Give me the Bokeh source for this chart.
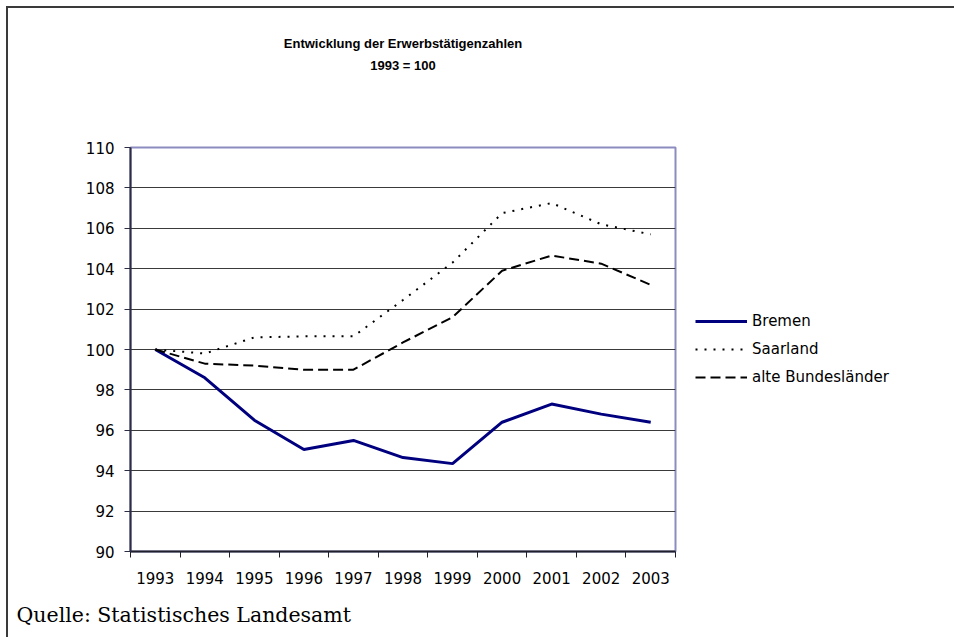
from bokeh.plotting import figure
from bokeh.models import (Range1d, FixedTicker, LinearAxis, Legend, LegendItem,
                          Title, Grid, ColumnDataSource)
from bokeh.embed import file_html
from bokeh.resources import INLINE

# ---- data ----
years = ["1993", "1994", "1995", "1996", "1997", "1998", "1999", "2000", "2001", "2002", "2003"]
bremen = [100.0, 98.6, 96.5, 95.05, 95.5, 94.65, 94.35, 96.4, 97.3, 96.8, 96.4]
saarland = [100.0, 99.8, 100.6, 100.65, 100.65, 102.45, 104.3, 106.75, 107.25, 106.2, 105.7]
alte = [100.0, 99.3, 99.2, 99.0, 99.0, 100.35, 101.6, 103.9, 104.65, 104.25, 103.2]
y_ticks = [90, 92, 94, 96, 98, 100, 102, 104, 106, 108, 110]
title_line1 = "Entwicklung der Erwerbstätigenzahlen"
title_line2 = "1993 = 100"
source_note = "Quelle: Statistisches Landesamt"

n = len(years)
xs = [i + 0.5 for i in range(n)]
src = ColumnDataSource(dict(x=xs, bremen=bremen, saarland=saarland, alte=alte))

FONT = "DejaVu Sans"

p = figure(frame_width=545, frame_height=404, output_backend="svg", toolbar_location=None,
           x_range=Range1d(0, n), y_range=Range1d(y_ticks[0], y_ticks[-1]),
           min_border_left=130, min_border_right=279, min_border_top=147, min_border_bottom=79,
           x_axis_type=None, y_axis_type=None, title=None)
# outer chart border (top and left edges), painted behind the transparent border area
p.styles = {
    "background": ("linear-gradient(#3a3a3a, #3a3a3a) 6px 6px / 2px 100% no-repeat, "
                   "linear-gradient(#3a3a3a, #3a3a3a) 6px 6px / 100% 2px no-repeat, white"),
}
p.background_fill_color = "white"
p.border_fill_alpha = 0
p.outline_line_color = "#8c8cc0"
p.outline_line_width = 2

# grid
grid = Grid(dimension=1, ticker=FixedTicker(ticks=y_ticks))
grid.grid_line_color = "#3a3a3a"
grid.grid_line_width = 1
p.add_layout(grid)

# y axis
ya = LinearAxis(ticker=FixedTicker(ticks=y_ticks))
ya.axis_line_color = "#2c2c44"
ya.axis_line_width = 2
ya.major_tick_line_color = "#2c2c44"
ya.major_tick_out = 6
ya.major_tick_in = 0
ya.minor_tick_out = 0
ya.minor_tick_in = 0
ya.major_label_standoff = 10
ya.major_label_text_font = FONT
ya.major_label_text_font_size = "15px"
ya.major_label_text_color = "black"
p.add_layout(ya, "left")

# x axis: labels at category centres, ticks at category boundaries
xa = LinearAxis(ticker=FixedTicker(ticks=xs, minor_ticks=list(range(n + 1))))
xa.major_label_overrides = {x: y for x, y in zip(xs, years)}
xa.axis_line_color = "#20202c"
xa.axis_line_width = 2
xa.major_tick_out = 0
xa.major_tick_in = 0
xa.minor_tick_out = 6
xa.minor_tick_in = 0
xa.minor_tick_line_color = "#20202c"
xa.minor_tick_line_width = 1
xa.major_label_standoff = 14
xa.major_label_text_font = FONT
xa.major_label_text_font_size = "15px"
xa.major_label_text_color = "black"
p.add_layout(xa, "below")

# second title line carried by an empty top axis (centred over the plot area)
ta = LinearAxis(ticker=FixedTicker(ticks=[]), axis_label=title_line2)
ta.axis_line_color = None
ta.major_tick_line_color = None
ta.minor_tick_line_color = None
ta.major_tick_out = 0
ta.major_label_text_font_size = "0px"
ta.axis_label_standoff = 75
ta.axis_label_text_font = "Liberation Sans"
ta.axis_label_text_font_style = "bold"
ta.axis_label_text_font_size = "13px"
ta.axis_label_text_color = "black"
p.add_layout(ta, "above")

r_b = p.line("x", "bremen", source=src, line_color="#00007f", line_width=3)
r_s = p.line("x", "saarland", source=src, line_color="black", line_width=2, line_dash="2 7")
r_a = p.line("x", "alte", source=src, line_color="black", line_width=2, line_dash="10 5")

legend = Legend(items=[LegendItem(label="Bremen", renderers=[r_b]),
                       LegendItem(label="Saarland", renderers=[r_s]),
                       LegendItem(label="alte Bundesländer", renderers=[r_a])],
                location="center_left")
legend.glyph_width = 52
legend.glyph_height = 20
legend.label_height = 20
legend.spacing = 8
legend.padding = 0
legend.margin = 20
legend.label_standoff = 5
legend.label_text_font = FONT
legend.label_text_font_size = "15px"
legend.label_text_color = "black"
legend.border_line_color = None
legend.background_fill_alpha = 0
p.add_layout(legend, "right")

t1 = Title(text=title_line1, align="center", standoff=8,
           text_font="Liberation Sans", text_font_style="bold", text_font_size="13px",
           text_color="black")
p.add_layout(t1, "above")

foot = Title(text=source_note, align="left", offset=-114, standoff=29,
             text_font="DejaVu Serif", text_font_style="normal", text_font_size="20.5px",
             text_color="black")
p.add_layout(foot, "below")

open("out.html", "w").write(file_html(p, INLINE))
